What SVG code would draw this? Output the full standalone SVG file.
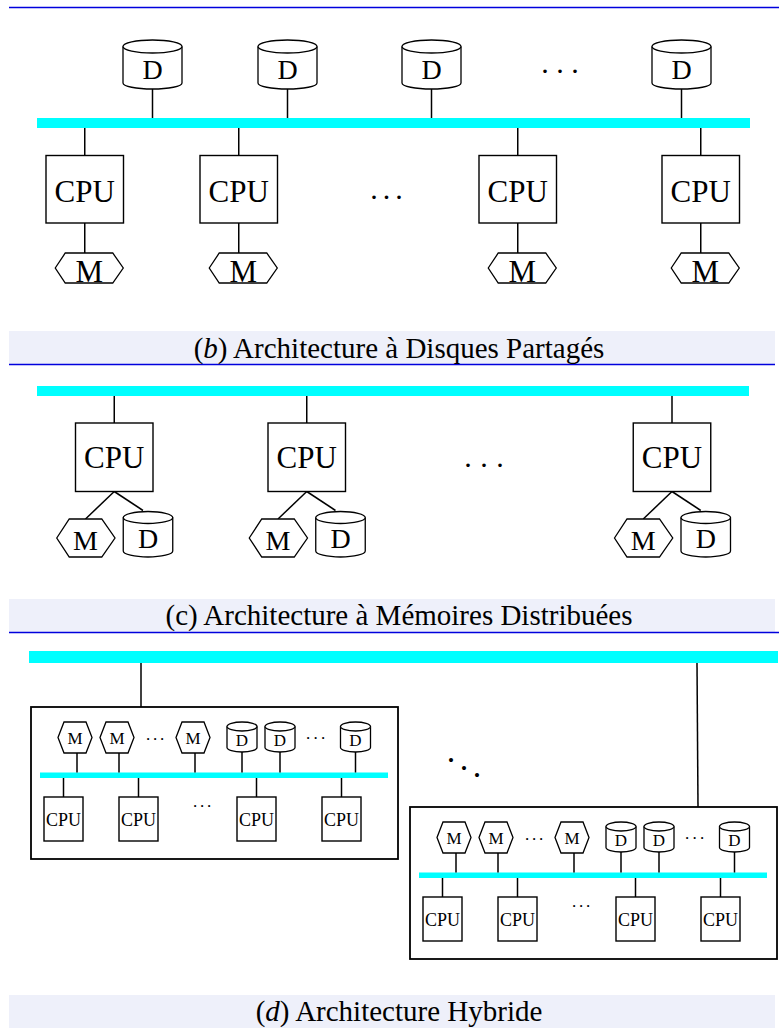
<svg xmlns="http://www.w3.org/2000/svg" width="779" height="1028" viewBox="0 0 779 1028">
  <style>
    .bus { fill: #00ffff; }
    .ln { stroke: #000; stroke-width: 1.5; fill: none; }
    .box { fill: #fff; stroke: #000; stroke-width: 1.4; }
    .shape { fill: #fff; stroke: #000; stroke-width: 1.3; }
    .t { font-family: "Liberation Serif", "Times New Roman", serif; fill: #000; text-anchor: middle; }
    .big { font-size: 31px; }
    .mid { font-size: 28px; }
    .sm { font-size: 17px; }
    .dots { font-family: "Liberation Serif", "Times New Roman", serif; fill: #000; text-anchor: middle; }
    .band { fill: #eef0fa; }
    .rule { stroke: #0000dd; stroke-width: 1.4; }
    .cap { font-family: "Liberation Serif", "Times New Roman", serif; font-size: 29px; fill: #000; text-anchor: middle; }
  </style>

  <!-- top rule -->
  <line class="rule" x1="9" y1="7.5" x2="779" y2="7.5"/>

  <!-- ===================== (b) shared disks ===================== -->
  <g id="b-connectors">
    <rect class="bus" x="37" y="118" width="713" height="10"/>
    <line class="ln" x1="152.5" y1="89" x2="152.5" y2="118"/>
    <line class="ln" x1="287.5" y1="89" x2="287.5" y2="118"/>
    <line class="ln" x1="431.5" y1="89" x2="431.5" y2="118"/>
    <line class="ln" x1="681.5" y1="89" x2="681.5" y2="118"/>
    <line class="ln" x1="84.75" y1="128" x2="84.75" y2="155.5"/>
    <line class="ln" x1="238.75" y1="128" x2="238.75" y2="155.5"/>
    <line class="ln" x1="517.75" y1="128" x2="517.75" y2="155.5"/>
    <line class="ln" x1="700.75" y1="128" x2="700.75" y2="155.5"/>
    <line class="ln" x1="84.75" y1="223" x2="84.75" y2="253"/>
    <line class="ln" x1="238.75" y1="223" x2="238.75" y2="253"/>
    <line class="ln" x1="517.75" y1="223" x2="517.75" y2="253"/>
    <line class="ln" x1="700.75" y1="223" x2="700.75" y2="253"/>
  </g>

  <g id="b-disk1">
    <path class="shape" d="M123 46.5 V83 A29.5 6 0 0 0 182 83 V46.5"/>
    <ellipse class="shape" cx="152.5" cy="46.5" rx="29.5" ry="6.5"/>
    <text class="t mid" x="152.5" y="79">D</text>
  </g>
  <g id="b-disk2">
    <path class="shape" d="M258 46.5 V83 A29.5 6 0 0 0 317 83 V46.5"/>
    <ellipse class="shape" cx="287.5" cy="46.5" rx="29.5" ry="6.5"/>
    <text class="t mid" x="287.5" y="79">D</text>
  </g>
  <g id="b-disk3">
    <path class="shape" d="M402 46.5 V83 A29.5 6 0 0 0 461 83 V46.5"/>
    <ellipse class="shape" cx="431.5" cy="46.5" rx="29.5" ry="6.5"/>
    <text class="t mid" x="431.5" y="79">D</text>
  </g>
  <g id="b-disk4">
    <path class="shape" d="M652 46.5 V83 A29.5 6 0 0 0 711 83 V46.5"/>
    <ellipse class="shape" cx="681.5" cy="46.5" rx="29.5" ry="6.5"/>
    <text class="t mid" x="681.5" y="79">D</text>
  </g>
  <text class="dots" font-size="30" x="545 560 575" y="73">...</text>

  <g id="b-cpu1">
    <rect class="box" x="46" y="155.5" width="77.5" height="67.5"/>
    <text class="t big" x="84.75" y="202">CPU</text>
  </g>
  <g id="b-cpu2">
    <rect class="box" x="200" y="155.5" width="77.5" height="67.5"/>
    <text class="t big" x="238.75" y="202">CPU</text>
  </g>
  <g id="b-cpu3">
    <rect class="box" x="479" y="155.5" width="77.5" height="67.5"/>
    <text class="t big" x="517.75" y="202">CPU</text>
  </g>
  <g id="b-cpu4">
    <rect class="box" x="662" y="155.5" width="77.5" height="67.5"/>
    <text class="t big" x="700.75" y="202">CPU</text>
  </g>
  <text class="dots" font-size="30" x="374 386.5 399" y="199">...</text>

  <g id="b-mem1">
    <polygon class="shape" points="55.25,268 65.25,253 112.75,253 123.25,268 112.75,283 65.25,283"/>
    <text class="t big" x="89.25" y="282">M</text>
  </g>
  <g id="b-mem2">
    <polygon class="shape" points="209.25,268 219.25,253 266.75,253 277.25,268 266.75,283 219.25,283"/>
    <text class="t big" x="243.25" y="282">M</text>
  </g>
  <g id="b-mem3">
    <polygon class="shape" points="488.25,268 498.25,253 545.75,253 556.25,268 545.75,283 498.25,283"/>
    <text class="t big" x="522.25" y="282">M</text>
  </g>
  <g id="b-mem4">
    <polygon class="shape" points="671.25,268 681.25,253 728.75,253 739.25,268 728.75,283 681.25,283"/>
    <text class="t big" x="705.25" y="282">M</text>
  </g>

  <g id="b-caption">
    <rect class="band" x="9" y="331" width="766" height="33.5"/>
    <line class="rule" x1="9" y1="364.5" x2="775" y2="364.5"/>
    <text class="cap" x="399" y="358">(<tspan font-style="italic">b</tspan>) Architecture à Disques Partagés</text>
  </g>

  <!-- ===================== (c) distributed memories ===================== -->
  <g id="c-connectors">
    <rect class="bus" x="37" y="386" width="712" height="10"/>
    <line class="ln" x1="114.25" y1="396" x2="114.25" y2="423"/>
    <line class="ln" x1="306.75" y1="396" x2="306.75" y2="423"/>
    <line class="ln" x1="672" y1="396" x2="672" y2="423"/>
    <line class="ln" x1="114.25" y1="491.5" x2="85.5" y2="519"/>
    <line class="ln" x1="114.25" y1="491.5" x2="143" y2="510.5"/>
    <line class="ln" x1="306.75" y1="491.5" x2="278" y2="519"/>
    <line class="ln" x1="306.75" y1="491.5" x2="335.5" y2="510.5"/>
    <line class="ln" x1="672" y1="491.5" x2="643.25" y2="519"/>
    <line class="ln" x1="672" y1="491.5" x2="700.75" y2="510.5"/>
  </g>

  <g id="c-cpu1">
    <rect class="box" x="75.5" y="423" width="77.5" height="68.5"/>
    <text class="t big" x="114.25" y="468">CPU</text>
  </g>
  <g id="c-mem1">
    <polygon class="shape" points="56.75,538 69.25,519 101.75,519 115,538 101.75,557 69.25,557"/>
    <text class="t mid" x="85.5" y="549.5">M</text>
  </g>
  <g id="c-disk1">
    <path class="shape" d="M123.25 517.5 V551 A24.75 6 0 0 0 172.75 551 V517.5"/>
    <ellipse class="shape" cx="148" cy="517.5" rx="24.75" ry="6"/>
    <text class="t mid" x="148" y="547.5">D</text>
  </g>

  <g id="c-cpu2">
    <rect class="box" x="268" y="423" width="77.5" height="68.5"/>
    <text class="t big" x="306.75" y="468">CPU</text>
  </g>
  <g id="c-mem2">
    <polygon class="shape" points="249.25,538 261.75,519 294.25,519 307.5,538 294.25,557 261.75,557"/>
    <text class="t mid" x="278" y="549.5">M</text>
  </g>
  <g id="c-disk2">
    <path class="shape" d="M315.75 517.5 V551 A24.75 6 0 0 0 365.25 551 V517.5"/>
    <ellipse class="shape" cx="340.5" cy="517.5" rx="24.75" ry="6"/>
    <text class="t mid" x="340.5" y="547.5">D</text>
  </g>

  <text class="dots" font-size="30" x="468 484 500" y="467">...</text>

  <g id="c-cpu3">
    <rect class="box" x="633.25" y="423" width="77.5" height="68.5"/>
    <text class="t big" x="672" y="468">CPU</text>
  </g>
  <g id="c-mem3">
    <polygon class="shape" points="614.5,538 627,519 659.5,519 672.75,538 659.5,557 627,557"/>
    <text class="t mid" x="643.25" y="549.5">M</text>
  </g>
  <g id="c-disk3">
    <path class="shape" d="M681 517.5 V551 A24.75 6 0 0 0 730.5 551 V517.5"/>
    <ellipse class="shape" cx="705.75" cy="517.5" rx="24.75" ry="6"/>
    <text class="t mid" x="705.75" y="547.5">D</text>
  </g>

  <g id="c-caption">
    <rect class="band" x="9" y="599" width="766" height="33"/>
    <line class="rule" x1="9" y1="632.5" x2="779" y2="632.5"/>
    <text class="cap" x="399" y="625">(c) Architecture à Mémoires Distribuées</text>
  </g>

  <!-- ===================== (d) hybrid ===================== -->
  <g id="d-connectors">
    <rect class="bus" x="29" y="651" width="749" height="12"/>
    <line class="ln" x1="141" y1="663" x2="141" y2="707"/>
    <line class="ln" x1="697" y1="663" x2="698" y2="807"/>
  </g>

  <defs>
    <!-- one shared-disk cluster, drawn at its own origin -->
    <g id="cluster">
      <rect x="31" y="707" width="367" height="152" fill="#fff" stroke="#000" stroke-width="1.8"/>
      <rect class="bus" x="40" y="772.5" width="348" height="5.5"/>
      <g class="ln">
        <line x1="77" y1="753" x2="77" y2="772.5"/>
        <line x1="119" y1="753" x2="119" y2="772.5"/>
        <line x1="195" y1="753" x2="195" y2="772.5"/>
        <line x1="242" y1="752" x2="242" y2="772.5"/>
        <line x1="280" y1="752" x2="280" y2="772.5"/>
        <line x1="355.5" y1="752" x2="355.5" y2="772.5"/>
        <line x1="63.5" y1="778" x2="63.5" y2="797"/>
        <line x1="138.5" y1="778" x2="138.5" y2="797"/>
        <line x1="256.5" y1="778" x2="256.5" y2="797"/>
        <line x1="341.5" y1="778" x2="341.5" y2="797"/>
      </g>
      <polygon class="shape" points="58,737.5 64,722 86,722 92,737.5 86,753 64,753"/>
      <text class="t sm" x="75" y="744">M</text>
      <polygon class="shape" points="100,737.5 106,722 128,722 134,737.5 128,753 106,753"/>
      <text class="t sm" x="117" y="744">M</text>
      <text class="dots" font-size="17" x="148 155 162" y="740">...</text>
      <polygon class="shape" points="176,737.5 182,722 204,722 210,737.5 204,753 182,753"/>
      <text class="t sm" x="193" y="744">M</text>
      <path class="shape" d="M227 726.5 V747.5 A15 4.5 0 0 0 257 747.5 V726.5"/>
      <ellipse class="shape" cx="242" cy="726.5" rx="15" ry="4.5"/>
      <text class="t sm" x="242" y="746">D</text>
      <path class="shape" d="M265 726.5 V747.5 A15 4.5 0 0 0 295 747.5 V726.5"/>
      <ellipse class="shape" cx="280" cy="726.5" rx="15" ry="4.5"/>
      <text class="t sm" x="280" y="746">D</text>
      <text class="dots" font-size="17" x="308 315.5 323" y="739">...</text>
      <path class="shape" d="M340.5 726.5 V747.5 A15 4.5 0 0 0 370.5 747.5 V726.5"/>
      <ellipse class="shape" cx="355.5" cy="726.5" rx="15" ry="4.5"/>
      <text class="t sm" x="355.5" y="746">D</text>
      <rect class="box" x="44" y="797" width="39" height="44"/>
      <text class="t" font-size="18" x="63.5" y="826">CPU</text>
      <rect class="box" x="119" y="797" width="39" height="44"/>
      <text class="t" font-size="18" x="138.5" y="826">CPU</text>
      <text class="dots" font-size="17" x="195 202 209" y="807">...</text>
      <rect class="box" x="237" y="797" width="39" height="44"/>
      <text class="t" font-size="18" x="256.5" y="826">CPU</text>
      <rect class="box" x="322" y="797" width="39" height="44"/>
      <text class="t" font-size="18" x="341.5" y="826">CPU</text>
    </g>
  </defs>

  <g id="d-cluster1">
    <use href="#cluster"/>
  </g>
  <text class="dots" font-size="34" x="451 464 477" y="762 770 777">...</text>
  <g id="d-cluster2">
    <use href="#cluster" transform="translate(379 100)"/>
  </g>

  <g id="d-caption">
    <rect class="band" x="9" y="995" width="766" height="33"/>
    <text class="cap" x="399" y="1021">(<tspan font-style="italic">d</tspan>) Architecture Hybride</text>
  </g>
</svg>
